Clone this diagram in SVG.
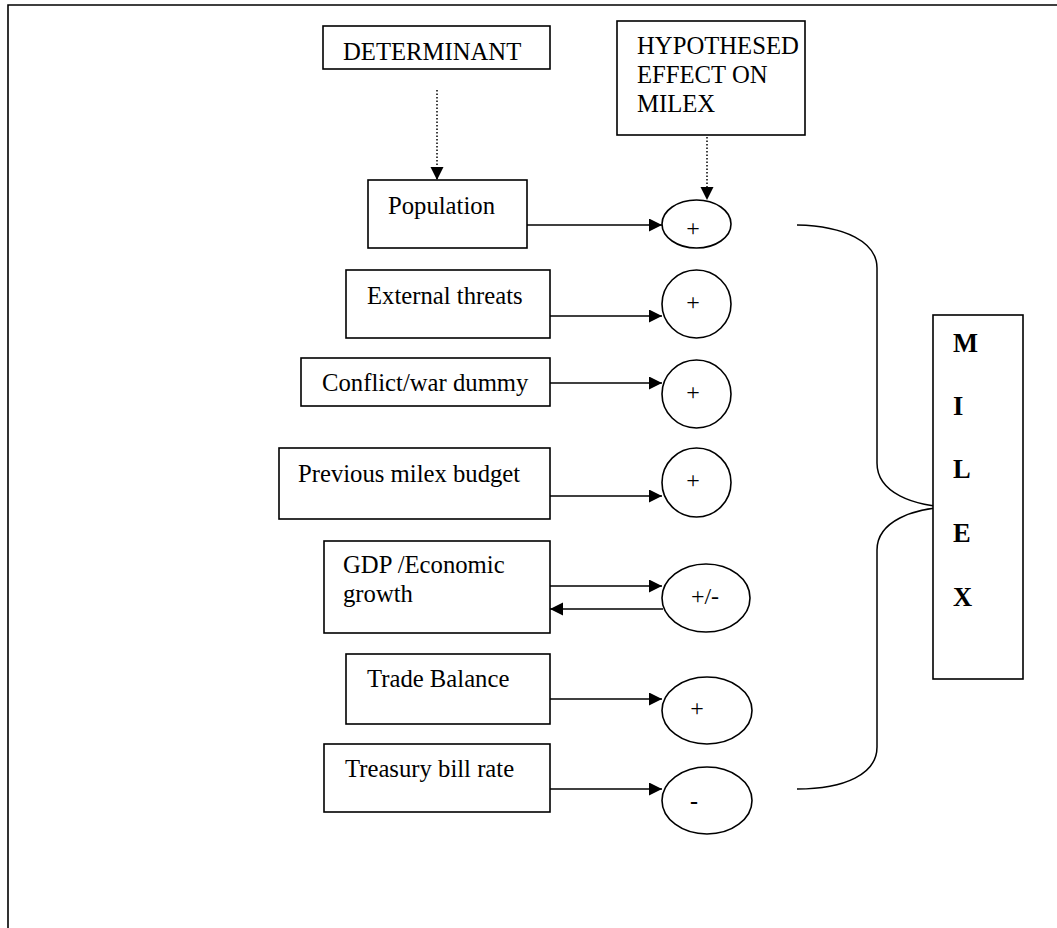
<svg xmlns="http://www.w3.org/2000/svg" width="1057" height="928" viewBox="0 0 1057 928">
<defs>
<style>
.box{fill:#fff;stroke:#000;stroke-width:1.6}
.ell{fill:#fff;stroke:#000;stroke-width:1.6}
.t{font-family:"Liberation Serif","Times New Roman",serif;font-size:24.7px;fill:#000}
.s{font-family:"Liberation Serif","Times New Roman",serif;font-size:24px;fill:#000;text-anchor:middle}
.m{font-family:"Liberation Serif","Times New Roman",serif;font-size:26.5px;font-weight:bold;fill:#000}
.ln{fill:none;stroke:#000;stroke-width:1.5}
.dot{fill:none;stroke:#000;stroke-width:1.5;stroke-dasharray:1.5 2}
</style>
<marker id="ah" markerUnits="userSpaceOnUse" markerWidth="14" markerHeight="14" refX="13" refY="6.5" orient="auto">
<path d="M0,0 L13,6.5 L0,13 Z" fill="#000"/>
</marker>
</defs>
<rect width="1057" height="928" fill="#fff"/>
<path d="M8,928 L8,5 L1057,5" fill="none" stroke="#000" stroke-width="1.6"/>

<g id="connectors">
<line class="dot" x1="437" y1="90" x2="437" y2="180" marker-end="url(#ah)"/>
<line class="dot" x1="707" y1="137" x2="707" y2="200" marker-end="url(#ah)"/>
<line class="ln" x1="527" y1="225" x2="662" y2="225" marker-end="url(#ah)"/>
<line class="ln" x1="550" y1="316" x2="662" y2="316" marker-end="url(#ah)"/>
<line class="ln" x1="550" y1="383" x2="662" y2="383" marker-end="url(#ah)"/>
<line class="ln" x1="550" y1="496" x2="662" y2="496" marker-end="url(#ah)"/>
<line class="ln" x1="550" y1="586" x2="662" y2="586" marker-end="url(#ah)"/>
<line class="ln" x1="663" y1="609" x2="550" y2="609" marker-end="url(#ah)"/>
<line class="ln" x1="550" y1="699" x2="662" y2="699" marker-end="url(#ah)"/>
<line class="ln" x1="550" y1="789" x2="662" y2="789" marker-end="url(#ah)"/>
<path class="ln" d="M797,225 C845,226 877,242 877,268 L877,463 C877,492 912,507 955,507 C912,507 877,522 877,550 L877,747 C877,774 845,789 797,789"/>
</g>

<g id="determinant">
<rect class="box" x="323" y="26" width="227" height="43"/>
<text class="t" x="343" y="60">DETERMINANT</text>
</g>
<g id="hypothesed">
<rect class="box" x="617" y="21" width="188" height="114"/>
<text class="t" x="637" y="54">HYPOTHESED</text>
<text class="t" x="637" y="83">EFFECT ON</text>
<text class="t" x="637" y="112">MILEX</text>
</g>

<g id="population">
<rect class="box" x="368" y="180" width="159" height="68"/>
<text class="t" x="388" y="214">Population</text>
</g>
<g id="external-threats">
<rect class="box" x="346" y="270" width="204" height="68"/>
<text class="t" x="367" y="304">External threats</text>
</g>
<g id="conflict">
<rect class="box" x="301" y="358" width="249" height="48"/>
<text class="t" x="322" y="391">Conflict/war dummy</text>
</g>
<g id="previous-milex">
<rect class="box" x="279" y="448" width="271" height="71"/>
<text class="t" x="298" y="482">Previous milex budget</text>
</g>
<g id="gdp">
<rect class="box" x="324" y="541" width="226" height="92"/>
<text class="t" x="343" y="573">GDP /Economic</text>
<text class="t" x="343" y="602">growth</text>
</g>
<g id="trade-balance">
<rect class="box" x="346" y="654" width="204" height="70"/>
<text class="t" x="367" y="687">Trade Balance</text>
</g>
<g id="treasury">
<rect class="box" x="324" y="744" width="226" height="68"/>
<text class="t" x="345" y="777">Treasury bill rate</text>
</g>

<g id="effect-population">
<ellipse class="ell" cx="696.5" cy="224" rx="34.5" ry="24"/>
<text class="s" x="693" y="236">+</text>
</g>
<g id="effect-external">
<ellipse class="ell" cx="696.5" cy="304" rx="34.5" ry="34"/>
<text class="s" x="693" y="310">+</text>
</g>
<g id="effect-conflict">
<ellipse class="ell" cx="696.5" cy="394" rx="34.5" ry="34"/>
<text class="s" x="693" y="400">+</text>
</g>
<g id="effect-previous">
<ellipse class="ell" cx="696.5" cy="482.5" rx="34.5" ry="34.5"/>
<text class="s" x="693" y="488">+</text>
</g>
<g id="effect-gdp">
<ellipse class="ell" cx="706" cy="598" rx="44" ry="34"/>
<text class="s" x="705" y="604">+/-</text>
</g>
<g id="effect-trade">
<ellipse class="ell" cx="707" cy="710.5" rx="45" ry="33.5"/>
<text class="s" x="697" y="716">+</text>
</g>
<g id="effect-treasury">
<ellipse class="ell" cx="707" cy="800.5" rx="45" ry="33.5"/>
<text class="s" x="694" y="809" font-weight="bold">-</text>
</g>

<g id="milex">
<rect class="box" x="933" y="315" width="90" height="364"/>
<text class="m" x="953" y="352">M</text>
<text class="m" x="953" y="415">I</text>
<text class="m" x="953" y="478">L</text>
<text class="m" x="953" y="542">E</text>
<text class="m" x="953" y="606">X</text>
</g>
</svg>
